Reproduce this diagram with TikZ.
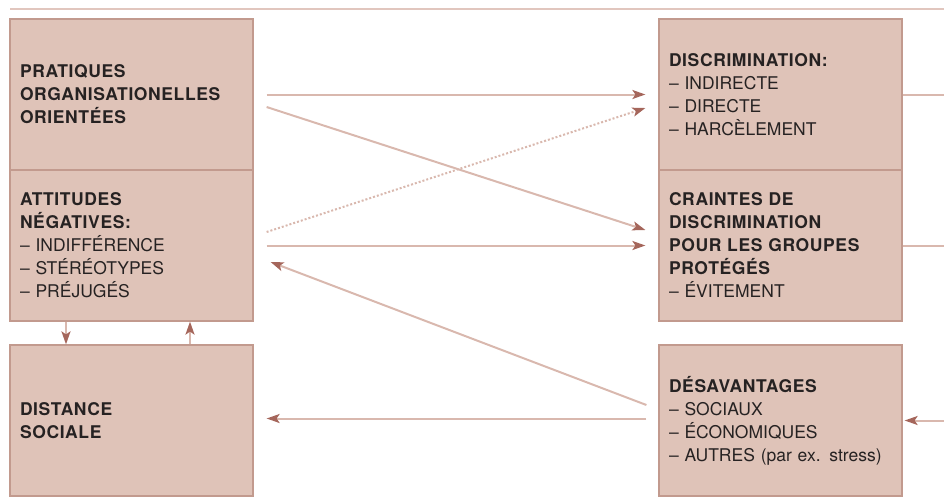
\documentclass[tikz,border=0pt]{standalone}
\usepackage{fontspec}
\setmainfont{TeX Gyre Heros}[BoldFeatures={LetterSpace=3.5}]
\usetikzlibrary{arrows.meta}
\definecolor{boxfill}{HTML}{DFC3B8}
\definecolor{boxline}{HTML}{C29A8E}
\definecolor{linec}{HTML}{D9B8AE}
\definecolor{tipc}{HTML}{A5665B}
\definecolor{textc}{HTML}{262222}
\tikzset{
  box/.style={draw=boxline, line width=1.2pt, fill=boxfill, minimum width=243pt, minimum height=151pt,
    text width=223pt, align=left, inner sep=0pt, text=textc,
    font=\fontsize{17.5}{23}\selectfont},
  conn/.style={draw=linec, line width=2pt},
  arr/.style={conn, -{Stealth[length=13pt,width=9pt,inset=3pt,color=tipc]}},
  dotline/.style={arr, dash pattern=on 2pt off 2pt}
}
\begin{document}
\begin{tikzpicture}[x=1pt,y=-1pt]
\useasboundingbox (0,0) rectangle (944,501);
\coordinate (r1) at (10,9);
\coordinate (r2) at (944,9);
\draw[draw=linec!80, line width=2pt] (r1) -- (r2);

\node[box] (pr) at (131.5,94.5) {\textbf{PRATIQUES}\\\textbf{ORGANISATIONELLES}\\\textbf{ORIENTÉES}};
\node[box] (at) at (131.5,245.5) {\textbf{ATTITUDES}\\\textbf{NÉGATIVES:}\\– INDIFFÉRENCE\\– STÉRÉOTYPES\\– PRÉJUGÉS};
\node[box] (ds) at (131.5,420.5) {\textbf{DISTANCE}\\\textbf{SOCIALE}};
\node[box] (di) at (780.5,94.5) {\textbf{DISCRIMINATION:}\\– INDIRECTE\\– DIRECTE\\– HARCÈLEMENT};
\node[box] (cr) at (780.5,245.5) {\textbf{CRAINTES DE}\\\textbf{DISCRIMINATION}\\\textbf{POUR LES GROUPES}\\\textbf{PROTÉGÉS}\\– ÉVITEMENT};
\node[box] (de) at (780.5,420.5) {\textbf{DÉSAVANTAGES}\\– SOCIAUX\\– ÉCONOMIQUES\\– AUTRES (par ex. stress)};

\coordinate (o1) at (944,94.5);
\coordinate (o2) at (944,245.5);
\coordinate (o3) at (944,420.5);

\draw[arr] ([xshift=13pt]pr.east) -- ([xshift=-13pt]di.west);
\draw[arr] ([xshift=13pt,yshift=-12.5pt]pr.east) -- ([xshift=-13pt,yshift=15.5pt]cr.west);
\draw[dotline] ([xshift=13pt,yshift=13.5pt]at.east) -- ([xshift=-13pt,yshift=-13.5pt]di.west);
\draw[arr] ([xshift=13pt]at.east) -- ([xshift=-13pt]cr.west);
\draw[arr] ([xshift=-12pt,yshift=15.5pt]de.west) -- ([xshift=17pt,yshift=-16.5pt]at.east);
\draw[arr] ([xshift=-12pt,yshift=2pt]de.west) -- ([xshift=13pt,yshift=2pt]ds.east);
\draw[arr] ([xshift=-65.5pt]at.south) -- ([xshift=-65.5pt]ds.north);
\draw[arr] ([xshift=58.5pt]ds.north) -- ([xshift=58.5pt]at.south);
\draw[conn] (di.east) -- (o1);
\draw[conn] (cr.east) -- (o2);
\draw[arr] (o3) -- ([xshift=2pt]de.east);
\end{tikzpicture}
\end{document}
